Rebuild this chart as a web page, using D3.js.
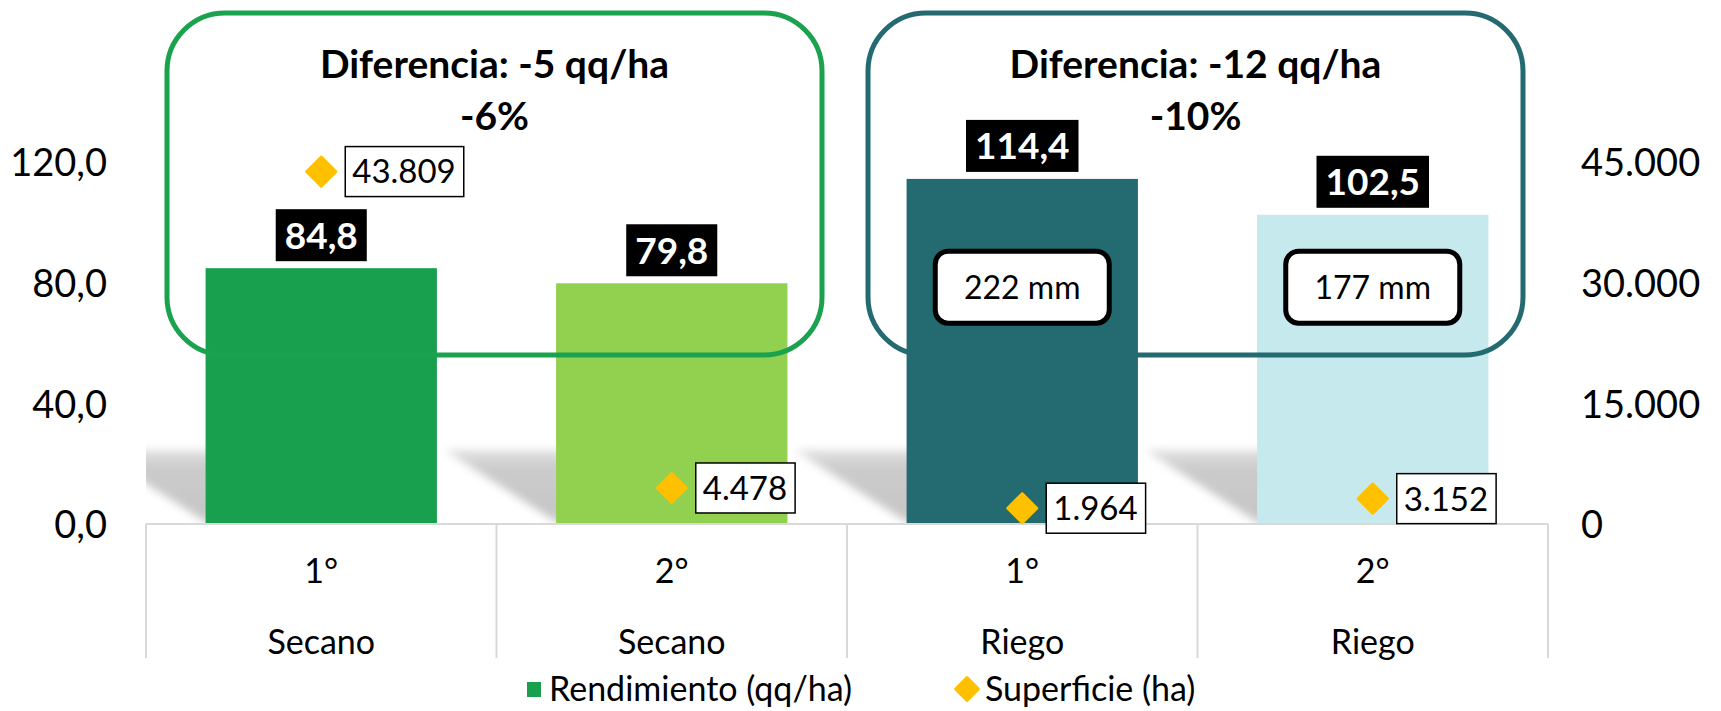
<!DOCTYPE html>
<html>
<head>
<meta charset="utf-8">
<script src="https://cdn.jsdelivr.net/npm/d3@7/dist/d3.min.js"></script>
<style>
  html, body { margin: 0; padding: 0; background: #fff; }
  svg { display: block; font-family: Lato, "Open Sans", sans-serif; }
</style>
</head>
<body>
<svg id="chart" width="1721" height="711"></svg>
<script>
// ---- data ----
const categories = ["1°", "2°", "1°", "2°"];
const groups = ["Secano", "Secano", "Riego", "Riego"];
const rendimiento = [84.8, 79.8, 114.4, 102.5];
const superficie = [43809, 4478, 1964, 3152];
const leftTicks = [0, 40, 80, 120];
const rightTicks = [0, 15000, 30000, 45000];
const lamina = [null, null, "222 mm", "177 mm"];
const diffTitles = ["Diferencia: -5 qq/ha", "Diferencia: -12 qq/ha"];
const diffPercents = ["-6%", "-10%"];
const seriesNames = ["Rendimiento (qq/ha)", "Superficie (ha)"];

// ---- styles ----
const barColors = ["#19a04f", "#92d050", "#236a71", "#c5e9ed"];
const boxColors = ["#1ba24f", "#236a71"];
const diamondColor = "#ffc000";

const locale = d3.formatLocale({decimal: ",", thousands: ".", grouping: [3], currency: ["$", ""]});
const fmt1 = locale.format(",.1f");
const fmt0 = locale.format(",.0f");

const svg = d3.select("#chart");
const plot = {left: 146, right: 1548, top: 10, bottom: 524};

const x = d3.scaleBand().domain(d3.range(categories.length)).range([plot.left, plot.right]).paddingInner(0.34).paddingOuter(0.17);
const xb = d3.scaleBand().domain(d3.range(categories.length)).range([plot.left, plot.right]);
const y = d3.scaleLinear().domain([0, 120]).range([plot.bottom, 162]);
const y2 = d3.scaleLinear().domain([0, 45000]).range([plot.bottom, 162]);

const defs = svg.append("defs");
defs.append("filter").attr("id", "blur").attr("x", "-30%").attr("y", "-30%").attr("width", "160%").attr("height", "160%")
  .append("feGaussianBlur").attr("stdDeviation", 4);
defs.append("clipPath").attr("id", "plotclip").append("rect")
  .attr("x", plot.left).attr("y", plot.top).attr("width", plot.right - plot.left).attr("height", plot.bottom - plot.top);
const grad = defs.append("linearGradient").attr("id", "shgrad").attr("x1", 0).attr("y1", 0).attr("x2", 0).attr("y2", 1);
grad.append("stop").attr("offset", "0%").attr("stop-color", "#e2e2e2");
grad.append("stop").attr("offset", "25%").attr("stop-color", "#cbcbcb");
grad.append("stop").attr("offset", "100%").attr("stop-color", "#c6c6c6");

// ---- shadows ----
const shDx = 112, shH = 72;
svg.append("g").attr("clip-path", "url(#plotclip)").selectAll("path").data(rendimiento).join("path")
  .attr("d", (d, i) => {
    const x0 = x(i), x1 = x(i) + x.bandwidth(), b = y(0) - 2;
    return `M${x0},${b}L${x0 - shDx},${b - shH}L${x1 - shDx},${b - shH}L${x1},${b}Z`;
  })
  .attr("fill", "url(#shgrad)").attr("filter", "url(#blur)");

// ---- bars ----
svg.append("g").selectAll("rect").data(rendimiento).join("rect")
  .attr("x", (d, i) => x(i)).attr("width", x.bandwidth())
  .attr("y", d => y(d)).attr("height", d => y(0) - y(d))
  .attr("fill", (d, i) => barColors[i]);

// ---- category axis (table style) ----
const catG = svg.append("g");
catG.append("line").attr("x1", plot.left).attr("x2", plot.right).attr("y1", y(0)).attr("y2", y(0))
  .attr("stroke", "#d9d9d9").attr("stroke-width", 2);
xb.domain().concat([categories.length]).forEach(i => {
  const xx = i < categories.length ? xb(i) : plot.right;
  catG.append("line").attr("x1", xx).attr("x2", xx).attr("y1", y(0)).attr("y2", 658)
    .attr("stroke", "#d9d9d9").attr("stroke-width", 2);
});
catG.selectAll("text.cat").data(categories).join("text").attr("class", "cat")
  .attr("x", (d, i) => xb(i) + xb.bandwidth() / 2).attr("y", 571).attr("dy", "0.36em")
  .attr("text-anchor", "middle").attr("font-size", 34).attr("fill", "#000").text(d => d);
catG.selectAll("text.grp").data(groups).join("text").attr("class", "grp")
  .attr("x", (d, i) => xb(i) + xb.bandwidth() / 2).attr("y", 642).attr("dy", "0.36em")
  .attr("text-anchor", "middle").attr("font-size", 34).attr("fill", "#000").text(d => d);

// ---- value axes ----
const leftAxis = svg.append("g").attr("transform", `translate(${plot.left},0)`)
  .call(d3.axisLeft(y).tickValues(leftTicks).tickFormat(fmt1).tickSize(0).tickPadding(39));
leftAxis.select(".domain").remove();
leftAxis.selectAll("text").attr("font-size", 38).attr("font-family", "Lato, sans-serif").attr("fill", "#000").attr("dy", "0.36em");

const rightAxis = svg.append("g").attr("transform", `translate(${plot.right},0)`)
  .call(d3.axisRight(y2).tickValues(rightTicks).tickFormat(fmt0).tickSize(0).tickPadding(33));
rightAxis.select(".domain").remove();
rightAxis.selectAll("text").attr("font-size", 38).attr("font-family", "Lato, sans-serif").attr("fill", "#000").attr("dy", "0.36em");

// ---- difference boxes ----
const pairs = [[0, 1], [2, 3]];
pairs.forEach((p, k) => {
  const bx0 = xb(p[0]) + 21, bx1 = xb(p[1]) + xb.bandwidth() - 25;
  svg.append("rect").attr("x", bx0).attr("y", 13).attr("width", bx1 - bx0).attr("height", 342)
    .attr("rx", 58).attr("ry", 58).attr("fill", "none").attr("stroke", boxColors[k]).attr("stroke-width", 5);
  const cx = (bx0 + bx1) / 2;
  svg.append("text").attr("x", cx).attr("y", 64).attr("dy", "0.36em").attr("text-anchor", "middle")
    .attr("font-size", 39).attr("font-weight", "bold").text(diffTitles[k]);
  svg.append("text").attr("x", cx).attr("y", 116).attr("dy", "0.36em").attr("text-anchor", "middle")
    .attr("font-size", 39).attr("font-weight", "bold").text(diffPercents[k]);
});

// ---- lamina labels ----
lamina.forEach((t, i) => {
  if (!t) return;
  const cx = x(i) + x.bandwidth() / 2, cy = y(78.5);
  svg.append("rect").attr("x", cx - 87).attr("y", cy - 36).attr("width", 174).attr("height", 72)
    .attr("rx", 13).attr("fill", "#fff").attr("stroke", "#000").attr("stroke-width", 5);
  svg.append("text").attr("x", cx).attr("y", cy).attr("dy", "0.36em").attr("text-anchor", "middle")
    .attr("font-size", 32).text(t);
});

// ---- bar value labels ----
const barLab = svg.append("g").selectAll("g").data(rendimiento).join("g");
barLab.each(function(d, i) {
  const g = d3.select(this);
  const cx = x(i) + x.bandwidth() / 2;
  const bottom = y(d) - 7;
  const t = g.append("text").attr("x", cx).attr("y", bottom - 26).attr("dy", "0.36em")
    .attr("text-anchor", "middle").attr("font-size", 37).attr("font-weight", "bold").attr("fill", "#fff").text(fmt1(d));
  const w = t.node().getComputedTextLength() + 18;
  g.insert("rect", "text").attr("x", cx - w / 2).attr("y", bottom - 52).attr("width", w).attr("height", 52).attr("fill", "#000");
});

// ---- superficie diamonds + labels ----
const diaG = svg.append("g").selectAll("g").data(superficie).join("g");
diaG.each(function(d, i) {
  const g = d3.select(this);
  const cx = x(i) + x.bandwidth() / 2, cy = y2(d);
  g.append("path").attr("d", d3.symbol().type(d3.symbolSquare).size(420)())
    .attr("transform", `translate(${cx},${cy}) rotate(45)`).attr("fill", diamondColor)
    .attr("stroke", diamondColor).attr("stroke-width", 3).attr("stroke-linejoin", "round");
  const t = g.append("text").attr("x", cx + 31).attr("y", cy).attr("dy", "0.36em")
    .attr("font-size", 33).attr("fill", "#000").text(fmt0(d));
  const w = t.node().getComputedTextLength() + 15;
  g.insert("rect", "text").attr("x", cx + 24).attr("y", cy - 25).attr("width", w).attr("height", 50)
    .attr("fill", "#fff").attr("stroke", "#000").attr("stroke-width", 1.5);
});

// ---- legend ----
const leg = svg.append("g");
leg.append("rect").attr("x", 527).attr("y", 682).attr("width", 14).attr("height", 15).attr("fill", barColors[0]);
leg.append("text").attr("x", 549).attr("y", 689).attr("dy", "0.36em").attr("font-size", 34).text(seriesNames[0]);
leg.append("path").attr("d", d3.symbol().type(d3.symbolSquare).size(260)())
  .attr("transform", "translate(967,689) rotate(45)").attr("fill", diamondColor)
  .attr("stroke", diamondColor).attr("stroke-width", 3).attr("stroke-linejoin", "round");
leg.append("text").attr("x", 985).attr("y", 689).attr("dy", "0.36em").attr("font-size", 34).text(seriesNames[1]);
</script>
</body>
</html>
